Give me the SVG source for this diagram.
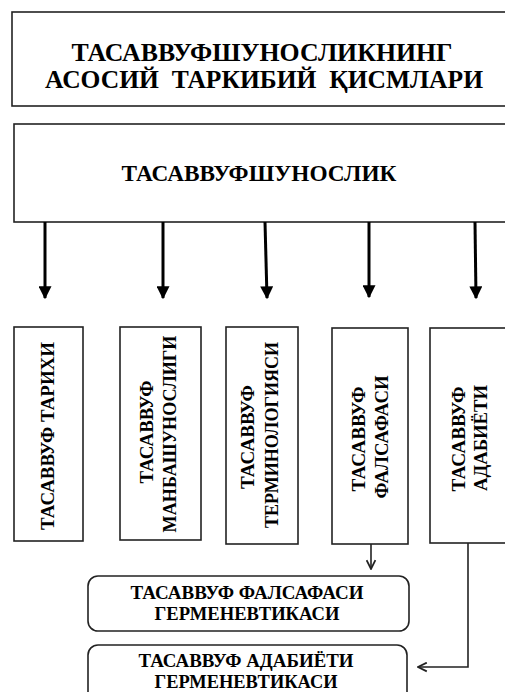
<svg xmlns="http://www.w3.org/2000/svg" width="505" height="692" viewBox="0 0 505 692">
<style>
  .box{fill:#fff;stroke:#222;stroke-width:1.6}
  .t{font-family:"Liberation Serif","Times New Roman",serif;font-weight:700;fill:#000;text-anchor:middle}
  .thick{stroke:#000;stroke-width:3;fill:none}
  .thin{stroke:#222;stroke-width:1.6;fill:none}
</style>
<defs>
  <marker id="tri" viewBox="0 0 10 10" refX="9" refY="5" markerUnits="userSpaceOnUse" markerWidth="13" markerHeight="13" orient="auto">
    <path d="M0,0 L10,5 L0,10 Z" fill="#000"/>
  </marker>
  <marker id="vee" viewBox="0 0 10 10" refX="9" refY="5" markerUnits="userSpaceOnUse" markerWidth="11" markerHeight="11" orient="auto">
    <path d="M1,1 L9,5 L1,9" fill="none" stroke="#222" stroke-width="1.6"/>
  </marker>
</defs>
<rect width="505" height="692" fill="#fff"/>
<g id="title">
  <rect class="box" x="12" y="12" width="500" height="94"/>
  <text class="t" x="262" y="61" font-size="26" textLength="381" lengthAdjust="spacingAndGlyphs">ТАСАВВУФШУНОСЛИКНИНГ</text>
  <text class="t" x="264" y="88" font-size="26" textLength="438" lengthAdjust="spacingAndGlyphs" xml:space="preserve">АСОСИЙ  ТАРКИБИЙ  ҚИСМЛАРИ</text>
</g>

<g id="main">
  <rect class="box" x="14" y="124" width="500" height="98"/>
  <text class="t" x="259" y="181" font-size="23" textLength="275" lengthAdjust="spacingAndGlyphs">ТАСАВВУФШУНОСЛИК</text>
</g>

<g id="n1">
  <rect class="box" x="14" y="327" width="69" height="214"/>
  <text class="t" font-size="18" transform="translate(54,436) rotate(-90)" textLength="188" lengthAdjust="spacingAndGlyphs">ТАСАВВУФ ТАРИХИ</text>
</g>
<g id="n2">
  <rect class="box" x="120" y="327" width="81" height="213"/>
  <text class="t" font-size="18" transform="translate(153,432) rotate(-90)" textLength="103" lengthAdjust="spacingAndGlyphs">ТАСАВВУФ</text>
  <text class="t" font-size="18" transform="translate(176,434) rotate(-90)" textLength="197" lengthAdjust="spacingAndGlyphs">МАНБАШУНОСЛИГИ</text>
</g>
<g id="n3">
  <rect class="box" x="226" y="327" width="72" height="217"/>
  <text class="t" font-size="18" transform="translate(254,437) rotate(-90)" textLength="104" lengthAdjust="spacingAndGlyphs">ТАСАВВУФ</text>
  <text class="t" font-size="18" transform="translate(278,435) rotate(-90)" textLength="186" lengthAdjust="spacingAndGlyphs">ТЕРМИНОЛОГИЯСИ</text>
</g>
<g id="n4">
  <rect class="box" x="332" y="328" width="76" height="216"/>
  <text class="t" font-size="18" transform="translate(365,439) rotate(-90)" textLength="105" lengthAdjust="spacingAndGlyphs">ТАСАВВУФ</text>
  <text class="t" font-size="18" transform="translate(388,437) rotate(-90)" textLength="123" lengthAdjust="spacingAndGlyphs">ФАЛСАФАСИ</text>
</g>
<g id="n5">
  <rect class="box" x="430" y="328" width="80" height="215"/>
  <text class="t" font-size="18" transform="translate(465,439) rotate(-90)" textLength="105" lengthAdjust="spacingAndGlyphs">ТАСАВВУФ</text>
  <text class="t" font-size="18" transform="translate(487,438) rotate(-90)" textLength="106" lengthAdjust="spacingAndGlyphs">АДАБИЁТИ</text>
</g>

<g id="h1">
  <rect class="box" x="88" y="576" width="321" height="55" rx="10"/>
  <text class="t" x="247" y="599" font-size="18" textLength="233" lengthAdjust="spacingAndGlyphs">ТАСАВВУФ ФАЛСАФАСИ</text>
  <text class="t" x="247" y="620" font-size="18" textLength="185" lengthAdjust="spacingAndGlyphs">ГЕРМЕНЕВТИКАСИ</text>
</g>
<g id="h2">
  <rect class="box" x="88" y="645" width="319" height="60" rx="10"/>
  <text class="t" x="246" y="667" font-size="18" textLength="215" lengthAdjust="spacingAndGlyphs">ТАСАВВУФ АДАБИЁТИ</text>
  <text class="t" x="246" y="688" font-size="18" textLength="183" lengthAdjust="spacingAndGlyphs">ГЕРМЕНЕВТИКАСИ</text>
</g>
<g id="connectors">
  <line class="thick" x1="45" y1="222" x2="45" y2="298" marker-end="url(#tri)"/>
  <line class="thick" x1="163" y1="222" x2="163" y2="298" marker-end="url(#tri)"/>
  <line class="thick" x1="265" y1="222" x2="267" y2="298" marker-end="url(#tri)"/>
  <line class="thick" x1="369" y1="222" x2="369" y2="297" marker-end="url(#tri)"/>
  <line class="thick" x1="475" y1="222" x2="476" y2="298" marker-end="url(#tri)"/>
  <line class="thin" x1="371" y1="544" x2="371" y2="569" marker-end="url(#vee)"/>
  <path class="thin" d="M468,543 V667 H418" marker-end="url(#vee)"/>
</g>
</svg>
